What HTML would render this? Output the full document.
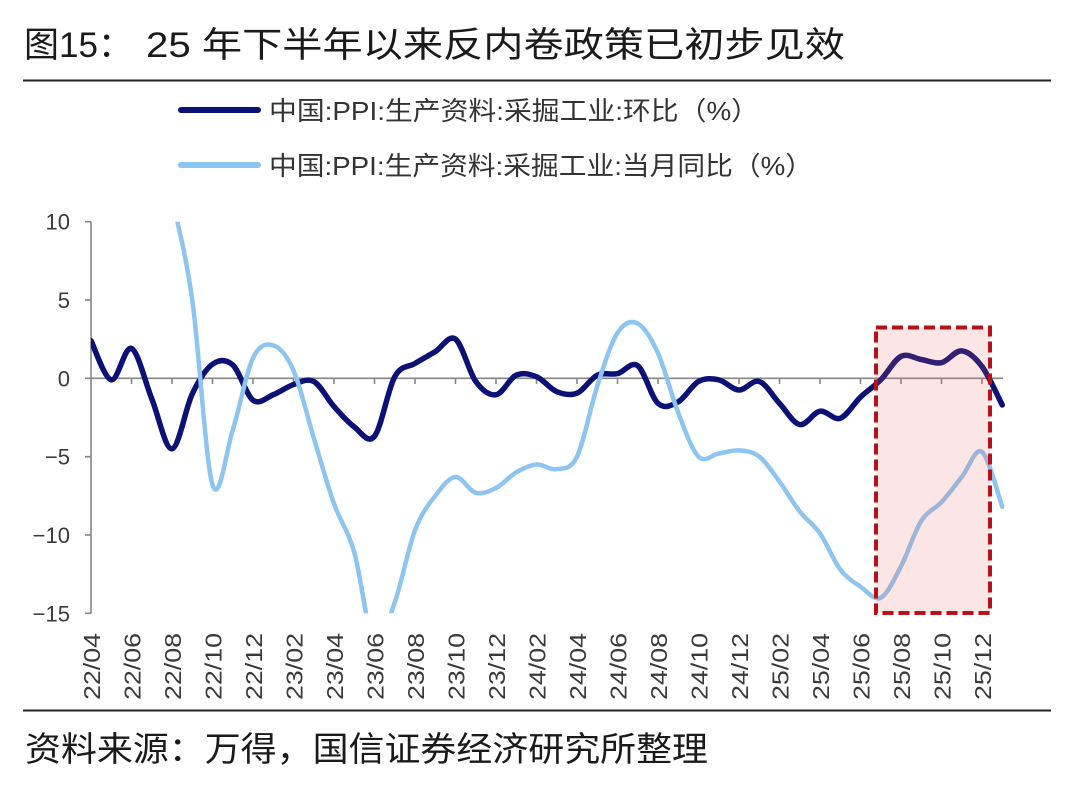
<!DOCTYPE html>
<html><head><meta charset="utf-8">
<style>
html,body{margin:0;padding:0;background:#fff;}
svg{display:block;}
text{font-family:"Liberation Sans","Noto Sans CJK SC",sans-serif;}
</style></head><body>
<svg id="c" width="1088" height="794" viewBox="0 0 1088 794" xmlns="http://www.w3.org/2000/svg">
<defs>
<clipPath id="plot"><rect x="91" y="221.7" width="930" height="391.6"/></clipPath>
</defs>
<rect width="1088" height="794" fill="#fff"/>

<!-- Title -->
<text x="24" y="57" font-size="35" fill="#1a1a1a">图15：</text>
<text x="146" y="57" font-size="35" fill="#1a1a1a" textLength="699" lengthAdjust="spacingAndGlyphs">25 年下半年以来反内卷政策已初步见效</text>
<line x1="23" y1="80.5" x2="1051" y2="80.5" stroke="#222" stroke-width="2"/>

<!-- Legend -->
<line x1="181" y1="110" x2="258" y2="110" stroke="#0c1275" stroke-width="6" stroke-linecap="round"/>
<text x="269" y="120" font-size="26" fill="#333" textLength="490" lengthAdjust="spacingAndGlyphs">中国:PPI:生产资料:采掘工业:环比（%）</text>
<line x1="181" y1="165" x2="258" y2="165" stroke="#8ec5f0" stroke-width="6" stroke-linecap="round"/>
<text x="269" y="175" font-size="26" fill="#333" textLength="544" lengthAdjust="spacingAndGlyphs">中国:PPI:生产资料:采掘工业:当月同比（%）</text>

<!-- Axes -->
<g stroke="#868686" stroke-width="1.6" fill="none">
<line x1="91" y1="221.7" x2="91" y2="613.3"/>
<line x1="85" y1="221.7" x2="91" y2="221.7"/>
<line x1="85" y1="300" x2="91" y2="300"/>
<line x1="85" y1="378.3" x2="91" y2="378.3"/>
<line x1="85" y1="456.7" x2="91" y2="456.7"/>
<line x1="85" y1="535" x2="91" y2="535"/>
<line x1="85" y1="613.3" x2="91" y2="613.3"/>
<line x1="91" y1="378.3" x2="1003" y2="378.3"/>
<g id="xt"></g>
</g>

<!-- Y labels -->
<g font-size="22" fill="#3a3a3a" text-anchor="end">
<text x="70" y="229.5">10</text>
<text x="70" y="308">5</text>
<text x="70" y="386.3">0</text>
<text x="70" y="464.7">−5</text>
<text x="70" y="543">−10</text>
<text x="70" y="621.3">−15</text>
</g>

<!-- X labels -->
<g font-size="23" fill="#3a3a3a">
<text transform="translate(100,700) rotate(-90)" textLength="67" lengthAdjust="spacingAndGlyphs">22/04</text>
<text transform="translate(140.5,700) rotate(-90)" textLength="67" lengthAdjust="spacingAndGlyphs">22/06</text>
<text transform="translate(181,700) rotate(-90)" textLength="67" lengthAdjust="spacingAndGlyphs">22/08</text>
<text transform="translate(221.5,700) rotate(-90)" textLength="67" lengthAdjust="spacingAndGlyphs">22/10</text>
<text transform="translate(262,700) rotate(-90)" textLength="67" lengthAdjust="spacingAndGlyphs">22/12</text>
<text transform="translate(302.5,700) rotate(-90)" textLength="67" lengthAdjust="spacingAndGlyphs">23/02</text>
<text transform="translate(343,700) rotate(-90)" textLength="67" lengthAdjust="spacingAndGlyphs">23/04</text>
<text transform="translate(383.5,700) rotate(-90)" textLength="67" lengthAdjust="spacingAndGlyphs">23/06</text>
<text transform="translate(424,700) rotate(-90)" textLength="67" lengthAdjust="spacingAndGlyphs">23/08</text>
<text transform="translate(464.5,700) rotate(-90)" textLength="67" lengthAdjust="spacingAndGlyphs">23/10</text>
<text transform="translate(505,700) rotate(-90)" textLength="67" lengthAdjust="spacingAndGlyphs">23/12</text>
<text transform="translate(545.5,700) rotate(-90)" textLength="67" lengthAdjust="spacingAndGlyphs">24/02</text>
<text transform="translate(586,700) rotate(-90)" textLength="67" lengthAdjust="spacingAndGlyphs">24/04</text>
<text transform="translate(626.5,700) rotate(-90)" textLength="67" lengthAdjust="spacingAndGlyphs">24/06</text>
<text transform="translate(667,700) rotate(-90)" textLength="67" lengthAdjust="spacingAndGlyphs">24/08</text>
<text transform="translate(707.5,700) rotate(-90)" textLength="67" lengthAdjust="spacingAndGlyphs">24/10</text>
<text transform="translate(748,700) rotate(-90)" textLength="67" lengthAdjust="spacingAndGlyphs">24/12</text>
<text transform="translate(788.5,700) rotate(-90)" textLength="67" lengthAdjust="spacingAndGlyphs">25/02</text>
<text transform="translate(829,700) rotate(-90)" textLength="67" lengthAdjust="spacingAndGlyphs">25/04</text>
<text transform="translate(869.5,700) rotate(-90)" textLength="67" lengthAdjust="spacingAndGlyphs">25/06</text>
<text transform="translate(910,700) rotate(-90)" textLength="67" lengthAdjust="spacingAndGlyphs">25/08</text>
<text transform="translate(950.5,700) rotate(-90)" textLength="67" lengthAdjust="spacingAndGlyphs">25/10</text>
<text transform="translate(991,700) rotate(-90)" textLength="67" lengthAdjust="spacingAndGlyphs">25/12</text>
</g>

<!-- Series -->
<g clip-path="url(#plot)" fill="none" stroke-linejoin="round" stroke-linecap="round">
<path id="dark" stroke="#0c1275" stroke-width="5.5" d=""/>
<path id="light" stroke="#8ec5f0" stroke-width="4.5" d=""/>
</g>

<!-- Highlight box -->
<rect x="876" y="327.5" width="114" height="285.5" fill="rgba(240,100,100,0.17)" stroke="#b5121b" stroke-width="4" stroke-dasharray="11 5"/>

<!-- Bottom -->
<line x1="23" y1="710.5" x2="1051" y2="710.5" stroke="#222" stroke-width="2"/>
<text x="25" y="761" font-size="34" fill="#1a1a1a" textLength="683" lengthAdjust="spacingAndGlyphs">资料来源：万得，国信证券经济研究所整理</text>
</svg>
<script>
(function(){
var X=function(i){return 91+20.25*i;}, Y=function(v){return 378.3-15.67*v;};
var dark=[2.4,-0.1,1.9,-1.3,-4.5,-1.0,0.9,0.85,-1.4,-1.05,-0.4,-0.2,-1.8,-3.1,-3.7,0.1,0.95,1.7,2.5,-0.2,-1.05,0.2,0.1,-0.85,-0.95,0.2,0.3,0.8,-1.6,-1.5,-0.2,-0.1,-0.75,-0.2,-1.6,-2.95,-2.1,-2.55,-1.2,-0.1,1.4,1.2,1.0,1.75,0.75,-1.7];
var light=[32,30,25,17,11.5,5.0,-6.8,-3.3,1.3,2.1,0.5,-3.8,-8.0,-11.1,-17,-14.3,-9.7,-7.5,-6.3,-7.3,-7.0,-6.0,-5.5,-5.8,-5.0,-0.5,2.9,3.5,1.6,-2.2,-5.0,-4.8,-4.6,-5.0,-6.6,-8.5,-9.9,-12.2,-13.3,-14.0,-12.0,-9.1,-7.9,-6.3,-4.7,-8.2];
function path(vals){
  var p=vals.map(function(v,i){return [X(i),Y(v)];});
  var d='M'+p[0][0].toFixed(2)+','+p[0][1].toFixed(2);
  for(var i=0;i<p.length-1;i++){
    var p0=p[i-1]||p[i], p1=p[i], p2=p[i+1], p3=p[i+2]||p[i+1];
    var c1x=p1[0]+(p2[0]-p0[0])/6, c1y=p1[1]+(p2[1]-p0[1])/6;
    var c2x=p2[0]-(p3[0]-p1[0])/6, c2y=p2[1]-(p3[1]-p1[1])/6;
    d+='C'+c1x.toFixed(2)+','+c1y.toFixed(2)+' '+c2x.toFixed(2)+','+c2y.toFixed(2)+' '+p2[0].toFixed(2)+','+p2[1].toFixed(2);
  }
  return d;
}
document.getElementById('dark').setAttribute('d',path(dark));
document.getElementById('light').setAttribute('d',path(light));
var g=document.getElementById('xt'), ns='http://www.w3.org/2000/svg';
for(var i=2;i<=44;i+=2){
  var l=document.createElementNS(ns,'line');
  l.setAttribute('x1',X(i));l.setAttribute('x2',X(i));
  l.setAttribute('y1',378.3);l.setAttribute('y2',384);
  g.appendChild(l);
}
})();
</script>
</body></html>
